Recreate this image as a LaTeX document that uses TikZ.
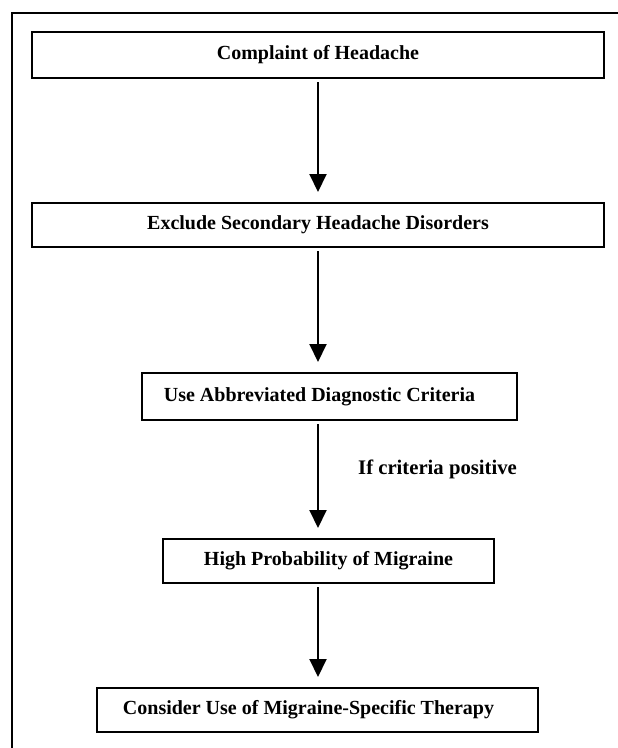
\documentclass[tikz,border=0pt]{standalone}
\usepackage{fontspec}
\setmainfont{Liberation Serif}
\usetikzlibrary{arrows.meta}
\begin{document}
\begin{tikzpicture}[x=1pt,y=-1pt,
  box/.style={draw=black,line width=1.3pt,outer sep=0pt,inner sep=0pt,
    font=\fontsize{20}{24}\selectfont\bfseries,fill=white},
  flow/.style={line width=2pt,-{Triangle[width=17pt,length=18pt]},shorten <=4pt,shorten >=11pt},
  lbl/.style={font=\fontsize{20.7}{24}\selectfont\bfseries,inner sep=0pt,anchor=west}]
\useasboundingbox (0,0) rectangle (618,748);
\begin{scope}
\clip (0,0) rectangle (618,748);
\draw[line width=2.3pt] (12.3,13.2) rectangle (660,790);
\end{scope}
\coordinate (ax) at (318,0);
\node[box,minimum width=572pt,minimum height=46pt] (b1) at (318,55) {Complaint of Headache};
\node[box,minimum width=572pt,minimum height=44pt] (b2) at (318,225) {Exclude Secondary Headache Disorders};
\node[box,minimum width=375pt,minimum height=47pt] (b3) at (329.5,396.5) {\hspace*{-20pt}Use Abbreviated Diagnostic Criteria};
\node[box,minimum width=331pt,minimum height=44pt] (b4) at (328.5,561) {High Probability of Migraine};
\node[box,minimum width=441pt,minimum height=44pt] (b5) at (317.5,710) {\hspace*{-18pt}Consider Use of Migraine-Specific Therapy};
\node[lbl] (lab) at (358,469) {If criteria positive};
\draw[flow] (b1.south -| ax) -- (b2.north -| ax);
\draw[flow] (b2.south -| ax) -- (b3.north -| ax);
\draw[flow] (b3.south -| ax) -- (b4.north -| ax);
\draw[flow] (b4.south -| ax) -- (b5.north -| ax);
\end{tikzpicture}
\end{document}
